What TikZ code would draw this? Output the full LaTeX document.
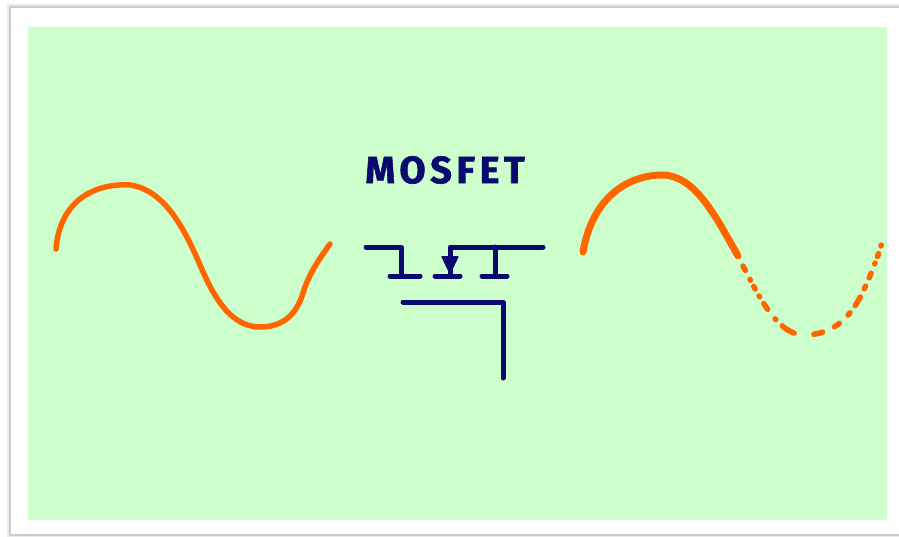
\documentclass[tikz,border=0pt]{standalone}
\usepackage{fontspec}
\setsansfont{Fira Sans}
\usetikzlibrary{arrows.meta}
\definecolor{paper}{HTML}{CCFFCC}
\definecolor{wave}{HTML}{FF6600}
\definecolor{ink}{HTML}{0A0A6E}
\tikzset{
  wire/.style={draw=ink, line width=5pt, line cap=round, line join=round},
  signal/.style={draw=wave, line cap=round, line join=round},
}
\begin{document}
\begin{tikzpicture}[x=1pt, y=-1pt]
  \useasboundingbox (0,0) rectangle (899,536);
  % card with a soft edge
  \fill[white] (0,0) rectangle (899,536);
  \begin{scope}
    \clip (0,0) rectangle (899,536);
    \draw[black!8, line width=6pt] (10,7) rectangle (960,535);
    \draw[black!20, line width=1.6pt] (10,7) rectangle (960,535);
    \fill[white] (11,8) rectangle (960,534);
  \end{scope}
  % green sheet
  \fill[paper] (28,27) rectangle (887,520);

  % title
  \node[ink, font=\sffamily\bfseries\fontsize{38}{38}\selectfont\addfontfeatures{LetterSpace=12,FakeBold=1.5}]
    (title) at (445,170) {MOSFET};

  % MOSFET symbol
  \coordinate (gL) at (366,247);
  \coordinate (gK) at (401,247);
  \coordinate (gB) at (401,276);
  \coordinate (mT) at (450,247);
  \coordinate (mB) at (450,276);
  \coordinate (rT) at (495,247);
  \coordinate (rB) at (495,276);
  \coordinate (tR) at (543,247);
  \coordinate (cL) at (403,302);
  \coordinate (cK) at (503,302);
  \coordinate (cE) at (503,378);
  \draw[wire] (gL) -- (gK) -- (gB);
  \draw[wire] (390,276) -- (420,276);
  \draw[wire] (tR) -- (mT) -- (mB);
  \draw[wire] (435,276) -- (460,276);
  \draw[wire] (rT) -- (rB);
  \draw[wire] (482,276) -- (507,276);
  \draw[wire] (cL) -- (cK) -- (cE);
  \fill[ink, rounded corners=1pt] (441,256) -- (459,256) -- (450,275) -- cycle;

  % input wave
  \draw[signal, line width=5.5pt]
    (56,249) .. controls (60,200) and (95,183) .. (130,185)
             .. controls (165,190) and (185,230) .. (200,265)
             .. controls (215,300) and (232,328) .. (262,327)
             .. controls (292,326) and (300,303) .. (304,290)
             .. controls (310,272) and (320,258) .. (330,244);

  % output wave: solid upper half, broken lower half
  \draw[signal, line width=7pt]
    (583,252) .. controls (592,200) and (625,175) .. (663,175)
              .. controls (695,176) and (715,215) .. (738,256);
  \draw[signal, line width=5.5pt,
        dash pattern=on 5pt off 10pt on 1pt off 7pt on 3pt off 8pt on 1pt off 8pt on 7pt off 12pt on 1pt off 9pt on 14pt off 20pt on 9pt off 13pt on 6pt off 12pt on 3pt off 9pt on 10pt off 9pt on 3pt off 9pt]
    (743,266) .. controls (762,303) and (780,337) .. (807,335)
              .. controls (840,333) and (855,310) .. (866,285)
              .. controls (875,265) and (880,250) .. (883,239);
\end{tikzpicture}
\end{document}
